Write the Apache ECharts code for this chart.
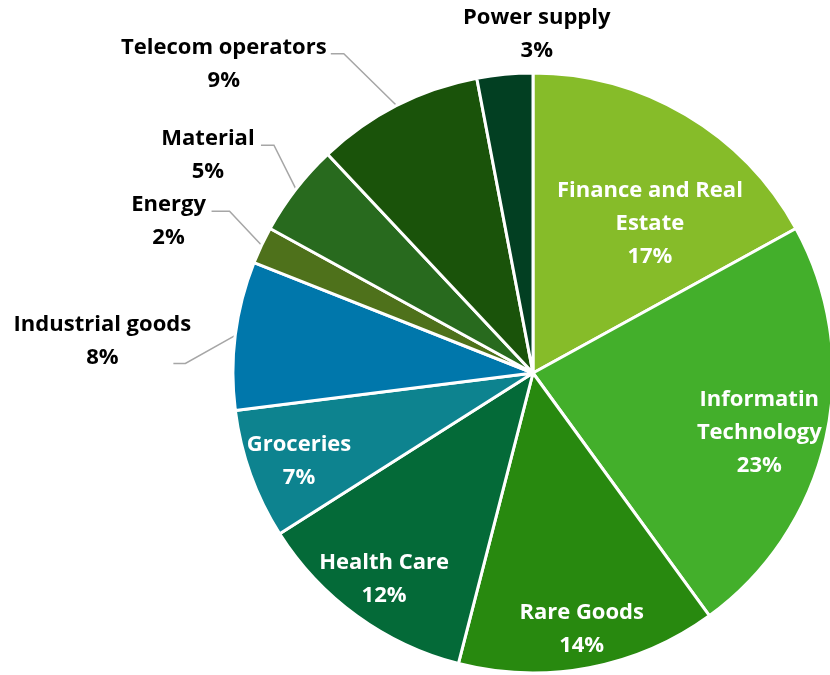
<!DOCTYPE html>
<html>
<head>
<meta charset="utf-8">
<script src="https://cdn.jsdelivr.net/npm/echarts@6/dist/echarts.min.js"></script>
<style>
  html, body { margin: 0; padding: 0; background: #ffffff; }
  #chart { width: 830px; height: 675px; }
</style>
</head>
<body>
<div id="chart"></div>
<script>
// Sector shares (%), clockwise from 12 o'clock
const sectors = [
  'Finance and Real Estate', 'Informatin Technology', 'Rare Goods', 'Health Care',
  'Groceries', 'Industrial goods', 'Energy', 'Material', 'Telecom operators', 'Power supply'
];
const shares = [17, 23, 14, 12, 7, 8, 2, 5, 9, 3];
const sliceColors = [
  '#86bc29', '#43af2b', '#28890f', '#046a38', '#0d838f',
  '#0077ab', '#4e711b', '#286a1e', '#1a530a', '#023f22'
];
// Two-line wrapping for the long names
const wrapped = {
  'Finance and Real Estate': 'Finance and Real\nEstate',
  'Informatin Technology': 'Informatin\nTechnology'
};
// Labels drawn inside their slice (white) vs. outside with a leader line (black)
const insideSectors = ['Finance and Real Estate', 'Informatin Technology', 'Rare Goods', 'Health Care', 'Groceries'];

// Inside labels: shift from the default mid-radius spot
const insideShift = {
  'Finance and Real Estate': [39, -18],
  'Informatin Technology': [77, 26],
  'Rare Goods': [20, 106],
  'Health Care': [-59, 82],
  'Groceries': [-90, 36]
};
// Outside labels: elbow offset from the arc point, horizontal run, label centre offset from line end
const leader = {
  'Telecom operators': { elbow: [-53, -52], run: 13, text: [-107, 11] },
  'Material':          { elbow: [-22, -44], run: 13, text: [-53, 10] },
  'Energy':            { elbow: [-32, -34], run: 18, text: [-43, 10] },
  'Industrial goods':  { elbow: [-50, 28],  run: 12, text: [-71, -22] },
  'Power supply':      { elbow: null, text: [32, -40] }
};

const FONT = '"Open Sans", "Noto Sans", sans-serif';

const data = sectors.map((name, i) => {
  const inside = insideSectors.indexOf(name) >= 0;
  return {
    name: name,
    value: shares[i],
    itemStyle: { color: sliceColors[i] },
    label: inside
      ? { position: 'inside', color: '#ffffff' }
      : { position: 'outside', color: '#000000' },
    labelLine: { show: !inside && name !== 'Power supply' }
  };
});

const chart = echarts.init(document.getElementById('chart'), null, { renderer: 'canvas' });

chart.setOption({
  backgroundColor: '#ffffff',
  animation: false,
  series: [{
    type: 'pie',
    center: [533, 373],
    radius: [0, 300],
    startAngle: 90,
    clockwise: true,
    avoidLabelOverlap: false,
    itemStyle: { borderColor: '#ffffff', borderWidth: 3 },
    label: {
      fontFamily: FONT,
      fontWeight: 'bold',
      fontSize: 22,
      lineHeight: 33,
      align: 'center',
      formatter: p => (wrapped[p.name] || p.name) + '\n' + p.value + '%'
    },
    labelLine: {
      length: 20,
      length2: 10,
      lineStyle: { color: '#a6a6a6', width: 1.5 }
    },
    labelLayout: function (params) {
      const name = sectors[params.dataIndex];
      if (insideShift[name]) {
        return { dx: insideShift[name][0], dy: insideShift[name][1] };
      }
      const cfg = leader[name];
      const pts = params.labelLinePoints;
      if (!cfg || !pts) {
        return {};
      }
      const start = pts[0];
      if (!cfg.elbow) {
        return {
          x: start[0] + cfg.text[0],
          y: start[1] + cfg.text[1],
          align: 'center',
          verticalAlign: 'middle'
        };
      }
      const elbow = [start[0] + cfg.elbow[0], start[1] + cfg.elbow[1]];
      const end = [elbow[0] - cfg.run, elbow[1]];
      return {
        x: end[0] + cfg.text[0],
        y: end[1] + cfg.text[1],
        align: 'center',
        verticalAlign: 'middle',
        labelLinePoints: [start, elbow, end]
      };
    },
    data: data
  }]
});
</script>
</body>
</html>
